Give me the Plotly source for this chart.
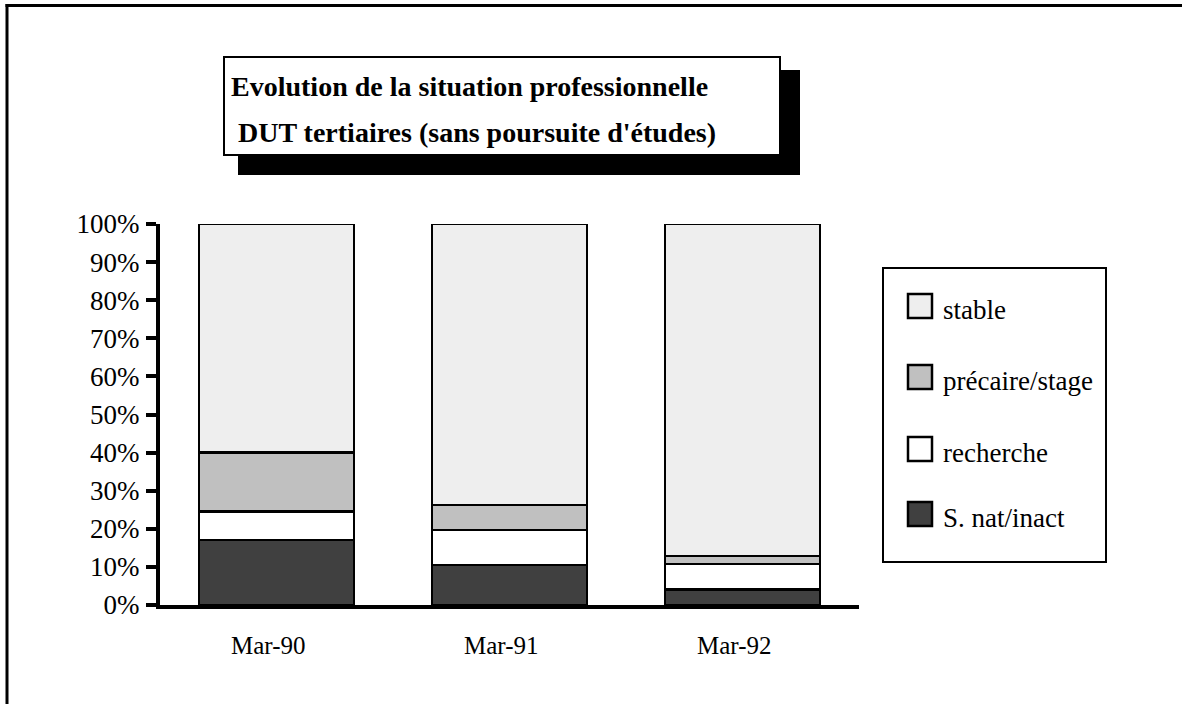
import plotly.graph_objects as go

categories = ["Mar-90", "Mar-91", "Mar-92"]
series_names = ["S. nat/inact", "recherche", "précaire/stage", "stable"]
snat = [0.17, 0.105, 0.041]
recherche = [0.075, 0.092, 0.066]
precaire = [0.155, 0.065, 0.022]
stable = [0.60, 0.738, 0.871]
series_values = [snat, recherche, precaire, stable]
colors = ["#404040", "#ffffff", "#c0c0c0", "#eeeeee"]
y_ticks = [i / 10 for i in range(11)]
y_tick_labels = [f"{i*10}%" for i in range(11)]
title_lines = ["Evolution de la situation professionnelle",
               " DUT tertiaires (sans poursuite d'études)"]

W, H = 1182, 704
L, R, T, B = 160, 859, 224, 605  # plot area pixels
FONT = "Liberation Serif, Times New Roman, serif"


def px(x):
    return (x - L) / (R - L)


def py(y):
    return (B - y) / (B - T)


fig = go.Figure()
for name, vals, col in zip(series_names, series_values, colors):
    fig.add_trace(go.Bar(
        x=categories, y=vals, name=name,
        marker=dict(color=col, line=dict(color="black", width=2.5)),
        width=0.665, showlegend=False,
    ))

shapes = []
annotations = []
# outer frame (top and left edges)
shapes.append(dict(type="line", xref="paper", yref="paper",
                   x0=px(5.5), x1=px(1200), y0=py(5.5), y1=py(5.5),
                   line=dict(color="black", width=3)))
shapes.append(dict(type="line", xref="paper", yref="paper",
                   x0=px(7), x1=px(7), y0=py(4), y1=py(720),
                   line=dict(color="black", width=3)))
# title box with shadow
shapes.append(dict(type="rect", xref="paper", yref="paper",
                   x0=px(238), x1=px(800), y0=py(70), y1=py(175),
                   fillcolor="black", line=dict(width=0)))
shapes.append(dict(type="rect", xref="paper", yref="paper",
                   x0=px(224), x1=px(780), y0=py(57), y1=py(155),
                   fillcolor="white", line=dict(color="black", width=2)))
for i, line in enumerate(title_lines):
    annotations.append(dict(xref="paper", yref="paper", x=px(229), y=py(86 + i * 46),
                            xanchor="left", yanchor="middle", showarrow=False,
                            text=f"<b>{line}</b>",
                            font=dict(family=FONT, size=28, color="black")))
# x category labels (slightly left of bar centres, as in the original)
for cat in categories:
    annotations.append(dict(xref="x", yref="paper", x=cat, y=py(645),
                            xanchor="center", yanchor="middle", showarrow=False,
                            xshift=-9, text=cat,
                            font=dict(family=FONT, size=25, color="black")))
# legend box (manual)
shapes.append(dict(type="rect", xref="paper", yref="paper",
                   x0=px(883), x1=px(1106), y0=py(268), y1=py(562),
                   fillcolor="white", line=dict(color="black", width=2)))
leg_y = [514, 449, 377, 306]
for name, col, yy in zip(series_names, colors, leg_y):
    shapes.append(dict(type="rect", xref="paper", yref="paper",
                       x0=px(908), x1=px(932), y0=py(yy - 12), y1=py(yy + 12),
                       fillcolor=col, line=dict(color="black", width=2.5)))
    annotations.append(dict(xref="paper", yref="paper", x=px(941), y=py(yy + 4),
                            xanchor="left", yanchor="middle", showarrow=False,
                            text=name, font=dict(family=FONT, size=27, color="black")))

fig.update_layout(
    barmode="stack",
    width=W, height=H,
    margin=dict(l=L, r=W - R, t=T, b=H - B, pad=0),
    paper_bgcolor="white", plot_bgcolor="white",
    shapes=shapes, annotations=annotations,
    font=dict(family=FONT, size=26, color="black"),
    showlegend=False,
)
fig.update_xaxes(range=[-0.5, 2.5], showgrid=False, zeroline=False,
                 showline=True, linecolor="black", linewidth=4,
                 ticks="", showticklabels=False)
fig.update_yaxes(range=[0, 1], tickvals=y_ticks, ticktext=y_tick_labels,
                 showgrid=False, zeroline=False,
                 showline=True, linecolor="black", linewidth=4,
                 ticks="outside", ticklen=10, tickwidth=4, tickcolor="black",
                 ticklabelstandoff=1,
                 tickfont=dict(family=FONT, size=27, color="black"))

fig.write_html("out.html", config={"displayModeBar": False},
               post_script="document.body.style.margin='0';document.body.style.overflow='hidden';")
